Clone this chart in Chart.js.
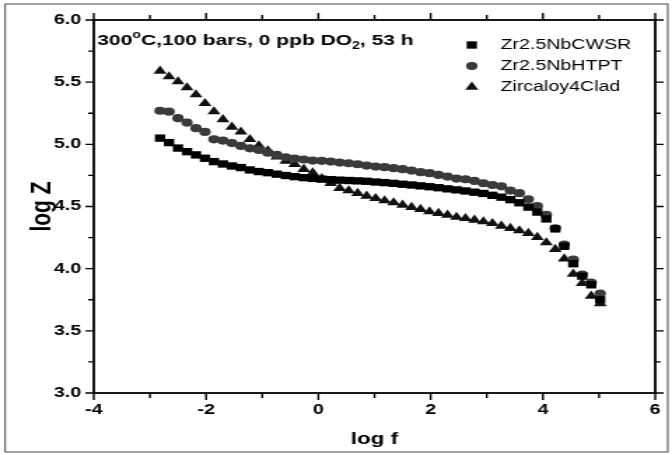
<!DOCTYPE html>
<html>
<head>
<meta charset="utf-8">
<script src="https://cdn.jsdelivr.net/npm/chart.js@4"></script>
<style>
  html, body { margin: 0; padding: 0; background: #fff; }
  #wrap { position: relative; width: 672px; height: 455px; }
</style>
</head>
<body>
<div id="wrap">
  <!-- drawn narrow, shown wide -->
  <canvas id="eisChart" width="480" height="455" style="width:672px;height:455px"></canvas>
</div>
<script>
// log f values (same frequency points for all three samples)
const logF = [-2.82, -2.66, -2.50, -2.34, -2.18, -2.02, -1.86, -1.70, -1.54, -1.38,
              -1.22, -1.06, -0.90, -0.74, -0.58, -0.42, -0.26, -0.10, 0.06, 0.22,
              0.38, 0.54, 0.70, 0.86, 1.02, 1.18, 1.34, 1.50, 1.66, 1.82,
              1.98, 2.14, 2.30, 2.46, 2.62, 2.78, 2.94, 3.10, 3.26, 3.42,
              3.58, 3.74, 3.90, 4.06, 4.22, 4.38, 4.54, 4.70, 4.86, 5.02];

// log Z for each sample
const zrCWSR = [5.05, 5.014, 4.97, 4.941, 4.915, 4.888, 4.861, 4.842, 4.826, 4.813,
                4.794, 4.781, 4.772, 4.76, 4.749, 4.74, 4.732, 4.726, 4.72, 4.716,
                4.712, 4.709, 4.706, 4.703, 4.697, 4.692, 4.686, 4.679, 4.673, 4.666,
                4.659, 4.651, 4.642, 4.634, 4.625, 4.615, 4.605, 4.59, 4.575, 4.555,
                4.53, 4.495, 4.455, 4.4, 4.32, 4.18, 4.04, 3.94, 3.87, 3.75];
const zrHTPT = [5.27, 5.263, 5.21, 5.175, 5.13, 5.10, 5.04, 5.03, 5.01, 4.987,
                4.968, 4.955, 4.933, 4.915, 4.896, 4.885, 4.878, 4.869, 4.867, 4.861,
                4.853, 4.848, 4.84, 4.829, 4.821, 4.816, 4.808, 4.80, 4.789, 4.776,
                4.768, 4.754, 4.741, 4.725, 4.719, 4.706, 4.687, 4.673, 4.662, 4.628,
                4.607, 4.558, 4.504, 4.432, 4.325, 4.193, 4.073, 3.953, 3.887, 3.80];
const zry4Clad = [5.59, 5.545, 5.505, 5.456, 5.40, 5.33, 5.263, 5.20, 5.14, 5.10,
                  5.04, 4.99, 4.95, 4.90, 4.866, 4.84, 4.80, 4.772, 4.727, 4.687,
                  4.647, 4.628, 4.607, 4.585, 4.566, 4.547, 4.531, 4.512, 4.494, 4.478,
                  4.459, 4.446, 4.432, 4.415, 4.405, 4.392, 4.378, 4.365, 4.343, 4.325,
                  4.306, 4.285, 4.253, 4.21, 4.156, 4.08, 3.957, 3.883, 3.78, 3.72];

const seriesNames = ['Zr2.5NbCWSR', 'Zr2.5NbHTPT', 'Zircaloy4Clad'];
const xTicks = [-4, -3, -2, -1, 0, 1, 2, 3, 4, 5, 6];
const yTicks = [3.0, 3.25, 3.5, 3.75, 4.0, 4.25, 4.5, 4.75, 5.0, 5.25, 5.5, 5.75, 6.0];

const FONT = '"Liberation Sans", Arial, sans-serif';
Chart.defaults.font.family = FONT;
Chart.defaults.color = '#000';

function pts(ys) {
    return ys.map((y, i) => ({ x: logF[i], y: y }));
}

const styles = [
    { color: '#000000', shape: 'rect', r: 5.2 },
    { color: '#3a3a3a', shape: 'circle', r: 4.1 },
    { color: '#111111', shape: 'triangle', r: 5.4 }
];

function marker(ctx, shape, x, y, r) {
    ctx.beginPath();
    if (shape === 'rect') {
        const s = r * Math.SQRT1_2;
        ctx.rect(x - s, y - s, 2 * s, 2 * s);
    } else if (shape === 'circle') {
        ctx.arc(x, y, r, 0, Math.PI * 2);
    } else {
        ctx.moveTo(x, y - r);
        ctx.lineTo(x + r * 0.866, y + r * 0.5);
        ctx.lineTo(x - r * 0.866, y + r * 0.5);
        ctx.closePath();
    }
    ctx.fill();
}

// box, ticks on all four sides, axis titles, note and legend
const decor = {
    id: 'decor',
    afterDraw(chart) {
        const ctx = chart.ctx;
        const a = chart.chartArea;
        const xs = chart.scales.x, ys = chart.scales.y;
        ctx.save();

        // outer picture border
        ctx.strokeStyle = '#666';
        ctx.lineWidth = 1.2;
        ctx.strokeRect(3.6, 4, 473.4, 448);

        ctx.strokeStyle = '#000';
        ctx.lineWidth = 1.8;
        ctx.strokeRect(a.left, a.top, a.right - a.left, a.bottom - a.top);

        ctx.lineWidth = 1.4;
        ctx.beginPath();
        xTicks.forEach(v => {
            const px = xs.getPixelForValue(v);
            const len = v % 2 === 0 ? 7 : 5;
            ctx.moveTo(px, a.bottom); ctx.lineTo(px, a.bottom + len);
            ctx.moveTo(px, a.top); ctx.lineTo(px, a.top - len);
        });
        yTicks.forEach(v => {
            const py = ys.getPixelForValue(v);
            const len = Math.abs(v * 2 - Math.round(v * 2)) < 1e-6 ? 6 : 4;
            ctx.moveTo(a.left, py); ctx.lineTo(a.left - len, py);
            ctx.moveTo(a.right, py); ctx.lineTo(a.right + len, py);
        });
        ctx.stroke();

        // axis titles
        ctx.fillStyle = '#000';
        ctx.font = 'bold 16px ' + FONT;
        ctx.textAlign = 'center';
        ctx.textBaseline = 'middle';
        ctx.fillText('log f', (a.left + a.right) / 2, 440);
        ctx.save();
        ctx.translate(30, (a.top + a.bottom) / 2);
        ctx.rotate(-Math.PI / 2);
        ctx.font = 'bold 21px ' + FONT;
        ctx.fillText('log Z', 0, 0);
        ctx.restore();

        // test conditions note
        ctx.textAlign = 'left';
        ctx.textBaseline = 'alphabetic';
        let x = 69.5;
        const base = 45;
        const parts = [
            ['300', 0, 15], ['o', -7, 10], ['C,100 bars, 0 ppb DO', 0, 15],
            ['2', 4, 10], [', 53 h', 0, 15]
        ];
        parts.forEach(([t, dy, size]) => {
            ctx.font = 'bold ' + size + 'px ' + FONT;
            ctx.fillText(t, x, base + dy);
            x += ctx.measureText(t).width;
        });

        // legend
        ctx.font = '14px ' + FONT;
        ctx.textBaseline = 'middle';
        const rows = [45, 66, 87];
        seriesNames.forEach((name, i) => {
            ctx.fillStyle = styles[i].color;
            marker(ctx, styles[i].shape, 337, rows[i], styles[i].r);
            ctx.fillStyle = '#000';
            ctx.fillText(name, 357.5, rows[i] + 0.5);
        });
        ctx.restore();
    }
};

const ctx = document.getElementById('eisChart').getContext('2d');
const chart = new Chart(ctx, {
    type: 'scatter',
    data: {
        datasets: [zrCWSR, zrHTPT, zry4Clad].map((ys, i) => ({
            label: seriesNames[i],
            data: pts(ys),
            pointStyle: styles[i].shape,
            pointRadius: styles[i].r,
            pointBackgroundColor: styles[i].color,
            pointBorderColor: styles[i].color,
            pointBorderWidth: 0,
            showLine: false
        }))
    },
    options: {
        responsive: false,
        devicePixelRatio: 1,
        animation: false,
        layout: { padding: { left: 0, right: 12, top: 20, bottom: 0 } },
        plugins: {
            legend: { display: false },
            tooltip: { enabled: false }
        },
        scales: {
            x: {
                type: 'linear',
                min: -4, max: 6,
                afterFit: s => { s.height = 62; },
                ticks: { stepSize: 2, padding: 2, font: { size: 14, weight: 'bold' }, maxRotation: 0 },
                grid: { drawOnChartArea: false, color: 'transparent', tickLength: 7 },
                border: { display: false }
            },
            y: {
                min: 3, max: 6,
                afterFit: s => { s.width = 67; },
                ticks: {
                    stepSize: 0.5, padding: 3,
                    font: { size: 14, weight: 'bold' },
                    callback: v => v.toFixed(1)
                },
                grid: { drawOnChartArea: false, color: 'transparent', tickLength: 6 },
                border: { display: false }
            }
        }
    },
    plugins: [decor]
});
</script>
</body>
</html>
